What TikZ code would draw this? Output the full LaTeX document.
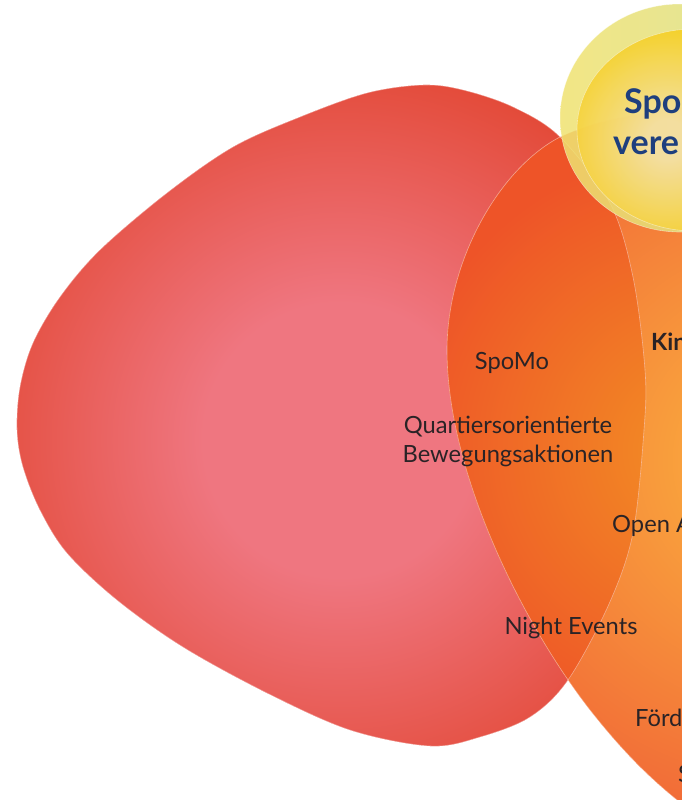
\documentclass[tikz,border=0pt]{standalone}
\usepackage{fontspec}
\setmainfont{Lato}
\definecolor{redin}{HTML}{EF7680}
\definecolor{redout}{HTML}{E34A38}
\definecolor{orin}{HTML}{FCB73F}
\definecolor{orout}{HTML}{F16A37}
\definecolor{ovin}{HTML}{F39024}
\definecolor{ovout}{HTML}{EE5428}
\definecolor{yelout}{HTML}{F0E270}
\definecolor{yelgreen}{HTML}{D6E08A}
\definecolor{yelin}{HTML}{F5E0A4}
\definecolor{yel}{HTML}{F6CF24}
\definecolor{txt}{HTML}{2A2326}
\definecolor{headblue}{HTML}{1E3F7E}
\pgfdeclareradialshading{redglow}{\pgfpoint{0bp}{0bp}}{color(0bp)=(redin); color(9bp)=(redin); color(25bp)=(redout); color(50bp)=(redout)}
\pgfdeclareradialshading{orglow}{\pgfpoint{0bp}{0bp}}{color(0bp)=(orin); color(25bp)=(orout); color(50bp)=(orout)}
\pgfdeclareradialshading{ovglow}{\pgfpoint{0bp}{0bp}}{color(0bp)=(ovin); color(25bp)=(ovout); color(50bp)=(ovout)}
\pgfdeclareradialshading{yelglow}{\pgfpoint{0bp}{0bp}}{color(0bp)=(yelin); color(4bp)=(yelin); color(22bp)=(yel); color(50bp)=(yel)}
\def\redpath{plot[smooth cycle, tension=0.55] coordinates {(17,430) (20,387) (33,343) (60,297) (100,250) (167,193) (233,147) (300,117) (367,93) (423,85) (463,90) (513,107) (560,137) (610,203) (633,277) (645,370) (644,430) (633,533) (609,604) (568,680) (530,717) (480,737) (430,746) (350,730) (267,693) (183,647) (117,600) (67,553) (40,510) (23,467)}}
\def\orpath{(740,102) .. controls (660,108) and (600,118) .. (560,137) .. controls (500,168) and (447,260) .. (447,350) .. controls (447,470) and (520,620) .. (590,710) .. controls (620,748) and (650,780) .. (690,810) -- (900,850) -- (900,100) -- cycle}
\tikzset{
  lbl/.style={text=txt, font=\fontsize{23.7}{28}\selectfont, inner sep=0pt},
  boldlbl/.style={lbl, font=\fontsize{23.7}{28}\selectfont\bfseries},
  head/.style={text=headblue, font=\fontsize{34}{40}\selectfont\bfseries, inner sep=0pt},
  rim/.style={draw=white, draw opacity=0.45, line width=0.6pt}
}
\begin{document}
\begin{tikzpicture}[x=1pt,y=-1pt]
\useasboundingbox (0,0) rectangle (682,800);
\clip (0,0) rectangle (682,800);
% red blob
\begin{scope}
  \clip \redpath;
  \fill[redout] (0,0) rectangle (700,800);
  \shade[shading=redglow] (340,440) circle (380pt);
\end{scope}
% orange blob
\begin{scope}
  \clip \orpath;
  \fill[orout] (400,0) rectangle (700,800);
  \shade[shading=orglow] (790,460) circle (370pt);
\end{scope}
% overlap red / orange
\begin{scope}
  \clip \redpath;
  \clip \orpath;
  \fill[ovout] (400,0) rectangle (700,800);
  \shade[shading=ovglow] (700,450) circle (300pt);
\end{scope}
\draw[rim] \orpath;
\draw[rim] \redpath;
% yellow blobs
\shade[left color=yelout, right color=yelgreen, fill opacity=0.85] (680,118) ellipse [x radius=120pt, y radius=114pt];
\draw[rim] (680,118) ellipse [x radius=120pt, y radius=114pt];
\begin{scope}
  \clip (694,130) ellipse [x radius=117pt, y radius=101pt];
  \shade[shading=yelglow, fill opacity=0.9] (668,140) circle (125pt);
\end{scope}
\draw[rim] (694,130) ellipse [x radius=117pt, y radius=101pt];
% labels
\node[head, anchor=base west] (h1) at (624,113) {Spo};
\node[head, anchor=base west] (h2) at (613,154) {vere};
\node[boldlbl, anchor=base west] (kin) at (651,350) {Kin};
\node[lbl, anchor=base] (spomo) at (512,369) {SpoMo};
\node[lbl, anchor=base] (q1) at (508,433) {Quartiersorientierte};
\node[lbl, anchor=base] (q2) at (508,462) {Bewegungsaktionen};
\node[lbl, anchor=base west] (open) at (612,532) {Open A};
\node[lbl, anchor=base] (night) at (571,634) {Night Events};
\node[lbl, anchor=base west] (ford) at (635,726) {Förd};
\node[lbl, anchor=base west] (s) at (678,782) {S};
\end{tikzpicture}
\end{document}
